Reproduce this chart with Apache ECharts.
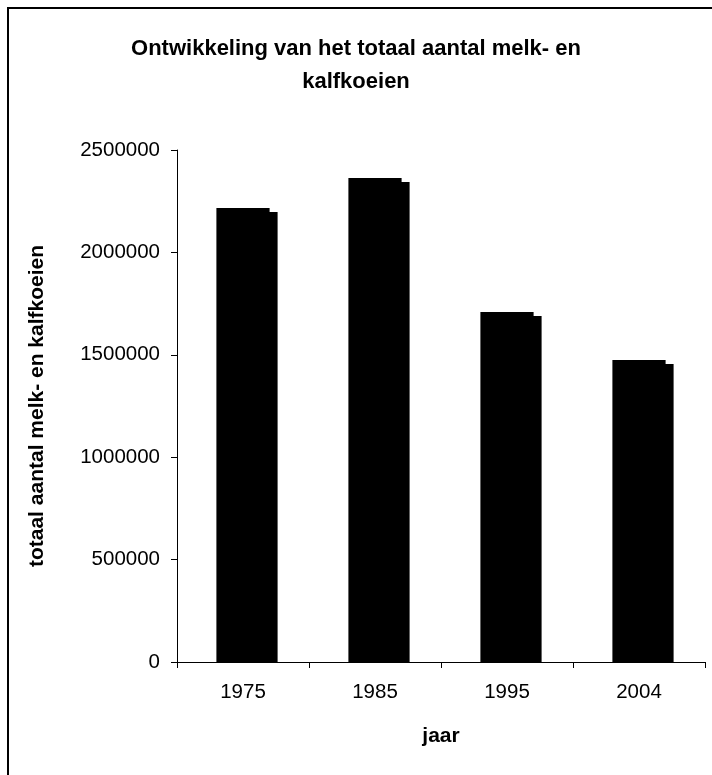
<!DOCTYPE html>
<html>
<head>
<meta charset="utf-8">
<script src="https://cdn.jsdelivr.net/npm/echarts@6/dist/echarts.min.js"></script>
<style>
  html, body { margin: 0; padding: 0; background: #fff; }
  #chart { width: 712px; height: 775px; }
</style>
</head>
<body>
<div id="chart"></div>
<script>
// Aantal melk- en kalfkoeien per jaar
const jaren = ['1975', '1985', '1995', '2004'];
const aantalKoeien = [2217000, 2363000, 1709000, 1475000];
const yTicks = [0, 500000, 1000000, 1500000, 2000000, 2500000];

const FONT = "'Liberation Sans', Arial, sans-serif";

const chart = echarts.init(document.getElementById('chart'), null, { renderer: 'canvas' });

// Bars are drawn with a hard offset shadow on the right-hand side
function renderBar(params, api) {
  const idx = api.value(0);
  const top = api.coord([idx, api.value(1)]);
  const base = api.coord([idx, 0]);
  const band = api.size([1, 0])[0];
  const w = band * 0.403;
  const x0 = top[0] - w / 2;
  const dx = 8, dy = 4;
  return {
    type: 'group',
    children: [
      { type: 'rect', shape: { x: x0 + dx, y: top[1] + dy, width: w, height: base[1] - top[1] - dy }, style: { fill: '#000' } },
      { type: 'rect', shape: { x: x0, y: top[1], width: w, height: base[1] - top[1] }, style: { fill: '#000' } }
    ]
  };
}

chart.setOption({
  animation: false,
  backgroundColor: '#fff',
  title: {
    text: 'Ontwikkeling van het totaal aantal melk- en\nkalfkoeien',
    left: 'center',
    top: 27,
    textStyle: { fontFamily: FONT, fontSize: 22, fontWeight: 'bold', color: '#000', lineHeight: 33 }
  },
  graphic: [{
    type: 'rect',
    shape: { x: 8, y: 8, width: 760, height: 820 },
    style: { fill: 'none', stroke: '#000', lineWidth: 2 },
    silent: true
  }],
  grid: { left: 177, right: 7, top: 150, bottom: 113 },
  xAxis: {
    type: 'category',
    data: jaren,
    boundaryGap: true,
    name: 'jaar',
    nameLocation: 'middle',
    nameGap: 64,
    nameTextStyle: { fontFamily: FONT, fontSize: 21, fontWeight: 'bold', color: '#000' },
    axisLine: { show: true, lineStyle: { color: '#000', width: 1 } },
    axisTick: { show: true, alignWithLabel: false, length: 6, lineStyle: { color: '#000' } },
    axisLabel: { fontFamily: FONT, fontSize: 20.5, color: '#000', margin: 20 },
    splitLine: { show: false }
  },
  yAxis: {
    type: 'value',
    min: 0,
    max: 2500000,
    interval: 500000,
    name: 'totaal aantal melk- en kalfkoeien',
    nameLocation: 'middle',
    nameGap: 129,
    nameTextStyle: { fontFamily: FONT, fontSize: 21, fontWeight: 'bold', color: '#000' },
    axisLine: { show: true, lineStyle: { color: '#000', width: 1 } },
    axisTick: { show: true, length: 6, lineStyle: { color: '#000' } },
    axisLabel: {
      fontFamily: FONT, fontSize: 20.5, color: '#000', margin: 17,
      formatter: v => (yTicks.includes(v) ? String(v) : '')
    },
    splitLine: { show: false }
  },
  series: [{
    type: 'custom',
    renderItem: renderBar,
    data: aantalKoeien.map((v, i) => [i, v]),
    encode: { x: 0, y: 1 }
  }]
});
</script>
</body>
</html>
